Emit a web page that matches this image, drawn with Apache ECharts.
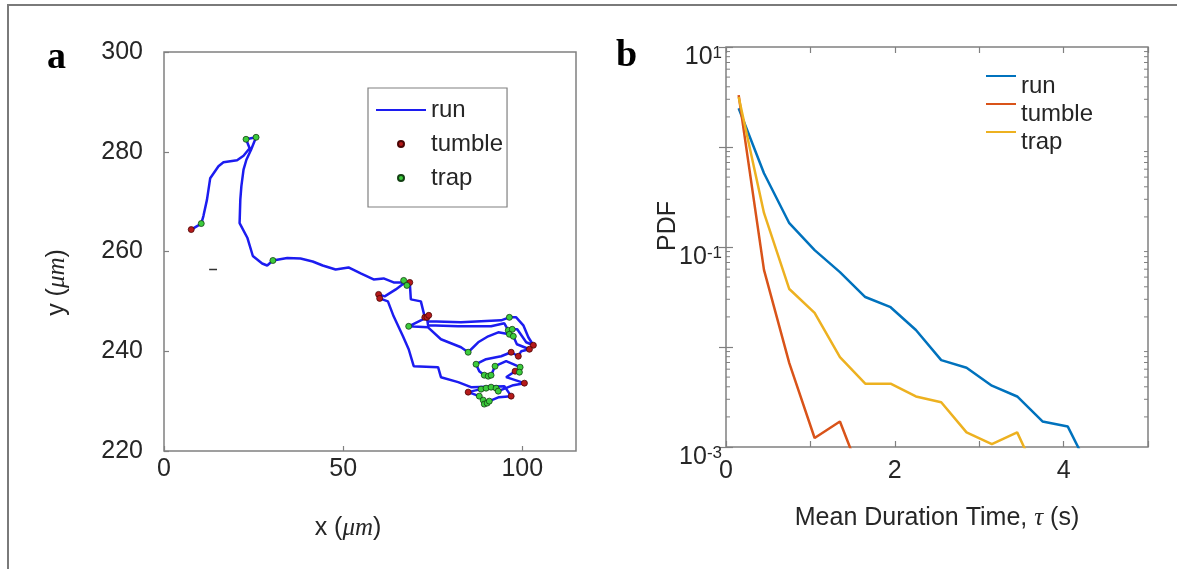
<!DOCTYPE html>
<html><head><meta charset="utf-8">
<script src="https://cdn.jsdelivr.net/npm/echarts@6/dist/echarts.min.js"></script>
<style>html,body{margin:0;padding:0;background:#fff}#c{width:1177px;height:569px}</style>
</head><body><div id="c"></div>
<script>
// ---------- Panel a: trajectory (x, y in micrometres) ----------
const runPath = [
  [7.6,264.4],[10.4,265.6],[11.0,267.1],[12.0,270.4],[12.9,274.7],[15.2,277.1],[16.6,277.9],[20.4,278.3],
  [22.2,279.2],[23.9,280.7],[22.9,282.5],[25.7,282.9],[24.3,280.4],[23.0,278.4],[22.2,276.4],[21.6,273.1],
  [21.3,270.4],[21.1,265.7],[23.3,262.7],[24.8,259.1],[27.4,257.6],[28.8,257.2],[30.4,258.2],[34.4,258.7],
  [38.1,258.6],[41.5,258.0],[44.3,257.2],[47.9,256.4],[51.5,256.8],[54.9,255.6],[58.5,254.4],[61.3,254.6],
  [64.1,253.8],[66.7,253.8],[66.9,254.2],[67.8,253.2],[68.6,253.8],[68.9,250.4],[71.7,250.0],[72.8,246.8],
  [73.7,246.0],[82.9,245.8],[94.1,246.2],[96.4,246.8],[98.3,246.8],[100.3,245.2],[101.7,242.8],[103.1,241.2],
  [101.1,241.8],[98.6,244.4],[97.2,244.4],[96.4,243.4],[93.3,243.8],[90.5,243.0],[87.7,241.8],[84.9,239.8],
  [82.9,240.8],[77.3,242.4],[73.7,244.8],[68.3,245.0],[73.4,246.8],[73.7,245.2],[82.1,245.0],[91.3,245.0],
  [95.0,245.6],[96.1,244.2],[97.5,243.0],[98.5,241.4],[102.0,240.4],[99.7,240.0],[98.9,239.0],[96.9,239.8],
  [94.1,239.0],[89.9,238.4],[87.1,237.4],[88.0,236.0],[89.4,235.2],[90.5,235.0],[91.3,235.2],[92.4,237.0],
  [95.5,238.0],[99.4,236.8],[99.2,235.8],[98.0,236.0],[95.5,234.8],[100.6,233.6],[97.5,233.2],[93.3,232.0],
  [92.7,232.6],[91.3,232.8],[89.9,232.6],[88.5,232.4],[84.9,231.8],[88.0,231.0],[89.1,230.2],[89.4,229.4],
  [90.2,229.6],[90.8,230.0],[93.5,230.8],[96.9,231.0],[95.0,233.0],[85.7,232.8],[82.1,233.8],[77.3,234.8],
  [76.5,236.8],[69.7,237.0],[68.3,240.4],[66.7,243.0],[64.1,247.0],[62.5,250.0],[60.2,250.6],[59.9,251.4],
  [61.6,251.0],[64.7,252.4],[66.9,253.6]
];
const tumblePts = [
  [7.6,264.4],[68.6,253.8],[59.9,251.4],[60.2,250.6],[72.8,246.8],[73.4,246.8],[73.9,247.2],
  [103.1,241.2],[102.0,240.4],[98.9,239.0],[96.9,239.8],[98.0,236.0],[100.6,233.6],[84.9,231.8],[96.9,231.0]
];
const trapPts = [
  [10.4,265.6],[22.9,282.5],[25.7,282.9],[30.4,258.2],[66.9,254.2],[67.8,253.2],[68.3,245.0],[84.9,239.8],
  [96.4,246.8],[96.1,244.2],[97.2,244.4],[96.4,243.4],[97.5,243.0],[87.1,237.4],[89.4,235.2],[90.5,235.0],
  [91.3,235.2],[92.4,237.0],[99.4,236.8],[99.2,235.8],[88.5,232.4],[89.9,232.6],[91.3,232.8],[92.7,232.6],
  [93.3,232.0],[88.0,231.0],[89.1,230.2],[89.4,229.4],[90.2,229.6],[90.8,230.0]
];
const strayMark = [[12.6,256.4],[14.8,256.4]];
const xTicksA = [0, 50, 100];
const yTicksA = [220, 240, 260, 280, 300];

// ---------- Panel b: PDF of mean duration time ----------
const tauBins   = [0.15,0.45,0.75,1.05,1.35,1.65,1.95,2.25,2.55,2.85,3.15,3.45,3.75,4.05,4.35];
const pdfRun    = [2.44,0.546,0.173,0.093,0.056,0.0316,0.025,0.0148,0.0074,0.0062,0.0041,0.0032,0.0018,0.0016,0.0005];
const pdfTumble = [3.3,0.059,0.0069,0.00123,0.0018,0.0004];
const pdfTrap   = [3.16,0.219,0.038,0.0219,0.0079,0.0043,0.0043,0.0032,0.0028,0.0014,0.00107,0.0014,0.0004];
const minorTickVals = [];
[0.001,0.01,0.1,1].forEach(function(d){ for (let k=2;k<=9;k++) minorTickVals.push(+(d*k).toPrecision(3)); });

const FONT = 'Liberation Sans, Arial, Helvetica, sans-serif';
const SERIF = 'Liberation Serif, Times New Roman, serif';
const TXT = '#262626';
const AX = '#808080';

function zip(xs, ys){ return ys.map(function(y,i){ return [xs[i], y]; }); }
const stripName = function(n){ return n.replace(/_.*$/, ''); };
const richName = function(n){ return '{t|' + stripName(n) + '}'; };

const chart = echarts.init(document.getElementById('c'), null, {renderer:'canvas'});
const labelA = {fontSize:25, color:TXT, fontFamily:FONT};
const legendB = function(name, top){
  return {left:985, top:top, padding:0, itemWidth:30, itemHeight:6, selectedMode:false, formatter:richName,
    data:[{name:name, itemStyle:{opacity:0}}],
    textStyle:{rich:{t:{fontSize:24, lineHeight:24, padding:[20,0,0,0], color:TXT, fontFamily:FONT}}}};
};

chart.setOption({
  animation:false,
  backgroundColor:'#fff',
  graphic:[{type:'polyline', shape:{points:[[8,569],[8,5],[1177,5]]}, style:{stroke:'#7a7a7a', lineWidth:2, fill:null}, silent:true}],
  title:[
    {text:'a', left:42, top:34, textStyle:{fontFamily:SERIF, fontWeight:'bold', fontSize:38, color:'#000'}},
    {text:'b', left:611, top:32, textStyle:{fontFamily:SERIF, fontWeight:'bold', fontSize:38, color:'#000'}}
  ],
  grid:[
    {left:164, top:52, width:412, height:399, show:true, borderColor:AX, borderWidth:1.5, backgroundColor:'transparent'},
    {left:726, top:47, width:422, height:400, show:true, borderColor:AX, borderWidth:1.5, backgroundColor:'transparent'}
  ],
  legend:[
    {orient:'vertical', left:368, top:88, itemWidth:50, itemHeight:6, itemGap:8, padding:[9,4,16,7],
     borderColor:AX, borderWidth:1.2, backgroundColor:'#fff', selectedMode:false, formatter:stripName,
     data:[{name:'run_a', itemStyle:{opacity:0}}, 'tumble_a', 'trap_a'],
     textStyle:{fontSize:24, lineHeight:26, color:TXT, fontFamily:FONT}},
    legendB('run_b', 54), legendB('tumble_b', 82), legendB('trap_b', 110)
  ],
  xAxis:[
    {gridIndex:0, type:'value', min:xTicksA[0], max:115, interval:xTicksA[1]-xTicksA[0],
     axisLine:{show:false}, splitLine:{show:false},
     axisTick:{inside:true, length:5, lineStyle:{color:AX, width:1.2}},
     axisLabel:Object.assign({margin:6, showMaxLabel:false}, labelA),
     name:'{r|x (}{i|μm}{r|)}', nameLocation:'middle', nameGap:65,
     nameTextStyle:{padding:[0,44,0,0], rich:{r:{fontSize:25,color:TXT,fontFamily:FONT}, i:{fontSize:25,color:TXT,fontFamily:SERIF,fontStyle:'italic'}}}},
    {gridIndex:1, type:'value', min:0, max:5, interval:1,
     axisLine:{show:false}, splitLine:{show:false},
     axisTick:{inside:true, length:6, lineStyle:{color:AX, width:1.2}},
     axisLabel:Object.assign({margin:12, formatter:function(v){ return v % 2 === 0 ? String(v) : ''; }}, labelA),
     name:'{r|Mean Duration Time, }{i|τ}{r| (s)}', nameLocation:'middle', nameGap:59,
     nameTextStyle:{rich:{r:{fontSize:25,color:TXT,fontFamily:FONT}, i:{fontSize:25,color:TXT,fontFamily:SERIF,fontStyle:'italic'}}}},
    {gridIndex:1, type:'value', position:'top', min:0, max:5, interval:1,
     axisLine:{show:false}, splitLine:{show:false}, axisLabel:{show:false},
     axisTick:{inside:true, length:6, lineStyle:{color:AX, width:1.2}}}
  ],
  yAxis:[
    {gridIndex:0, type:'value', min:yTicksA[0], max:yTicksA[yTicksA.length-1], interval:yTicksA[1]-yTicksA[0],
     axisLine:{show:false}, splitLine:{show:false},
     axisTick:{inside:true, length:5, lineStyle:{color:AX, width:1.2}},
     axisLabel:Object.assign({margin:21}, labelA),
     name:'{r|y (}{i|μm}{r|)}', nameLocation:'middle', nameGap:94,
     nameTextStyle:{padding:[0,62,0,0], rich:{r:{fontSize:25,color:TXT,fontFamily:FONT}, i:{fontSize:25,color:TXT,fontFamily:SERIF,fontStyle:'italic'}}}},
    {gridIndex:1, type:'log', logBase:10, min:0.001, max:10,
     axisLine:{show:false}, splitLine:{show:false},
     axisTick:{inside:true, length:7, lineStyle:{color:AX, width:1.2}},
     axisLabel:{margin:4, padding:[20,0,0,0], formatter:function(v){
        const e = Math.round(Math.log10(v));
        return (Math.abs(e) % 2 === 1) ? '{b|10}{s|' + e + '}' : '';
      }, rich:{b:{fontSize:25,color:TXT,fontFamily:FONT}, s:{fontSize:17,color:TXT,fontFamily:FONT,verticalAlign:'top'}}},
     name:'PDF', nameLocation:'middle', nameGap:45, nameMoveOverlap:false,
     nameTextStyle:{fontSize:25, color:TXT, fontFamily:FONT, padding:[0,0,0,42]}},
    {gridIndex:1, type:'log', logBase:10, min:0.001, max:10, position:'right',
     axisLine:{show:false}, splitLine:{show:false}, axisLabel:{show:false},
     axisTick:{inside:true, length:7, lineStyle:{color:AX, width:1.2}}}
  ],
  series:[
    {name:'run_a', type:'line', xAxisIndex:0, yAxisIndex:0, data:runPath, symbol:'none',
     lineStyle:{color:'#1c1cf0', width:2.5}, itemStyle:{color:'#1c1cf0'}, z:2, silent:true},
    {name:'stray', type:'line', xAxisIndex:0, yAxisIndex:0, data:strayMark, symbol:'none',
     lineStyle:{color:'#333', width:1.5}, silent:true},
    {name:'tumble_a', type:'scatter', xAxisIndex:0, yAxisIndex:0, data:tumblePts, symbol:'circle', symbolSize:6,
     itemStyle:{color:'#b51a1a', borderColor:'#4a0505', borderWidth:0.8, opacity:1}, z:3, silent:true},
    {name:'trap_a', type:'scatter', xAxisIndex:0, yAxisIndex:0, data:trapPts, symbol:'circle', symbolSize:6,
     itemStyle:{color:'#3ccc3c', borderColor:'#144014', borderWidth:0.8, opacity:1}, z:4, silent:true},

    {name:'run_b', type:'line', xAxisIndex:1, yAxisIndex:1, data:zip(tauBins, pdfRun), symbol:'none', clip:true,
     lineStyle:{color:'#0072BD', width:2.5}, itemStyle:{color:'#0072BD'}, silent:true},
    {name:'tumble_b', type:'line', xAxisIndex:1, yAxisIndex:1, data:zip(tauBins, pdfTumble), symbol:'none', clip:true,
     lineStyle:{color:'#D95319', width:2.5}, itemStyle:{color:'#D95319'}, silent:true},
    {name:'trap_b', type:'line', xAxisIndex:1, yAxisIndex:1, data:zip(tauBins, pdfTrap), symbol:'none', clip:true,
     lineStyle:{color:'#EDB120', width:2.5}, itemStyle:{color:'#EDB120'}, silent:true},
    {name:'minorTicks', type:'custom', xAxisIndex:1, yAxisIndex:1, silent:true, z:5,
     data:minorTickVals.map(function(v){ return [0, v]; }),
     renderItem:function(params, api){
       const v = api.value(1);
       const l = api.coord([0, v]), r = api.coord([5, v]);
       return {type:'group', children:[
         {type:'line', shape:{x1:l[0], y1:l[1], x2:l[0]+4, y2:l[1]}, style:{stroke:AX, lineWidth:1}},
         {type:'line', shape:{x1:r[0]-4, y1:r[1], x2:r[0], y2:r[1]}, style:{stroke:AX, lineWidth:1}}
       ]};
     }}
  ]
});
</script>
</body></html>
